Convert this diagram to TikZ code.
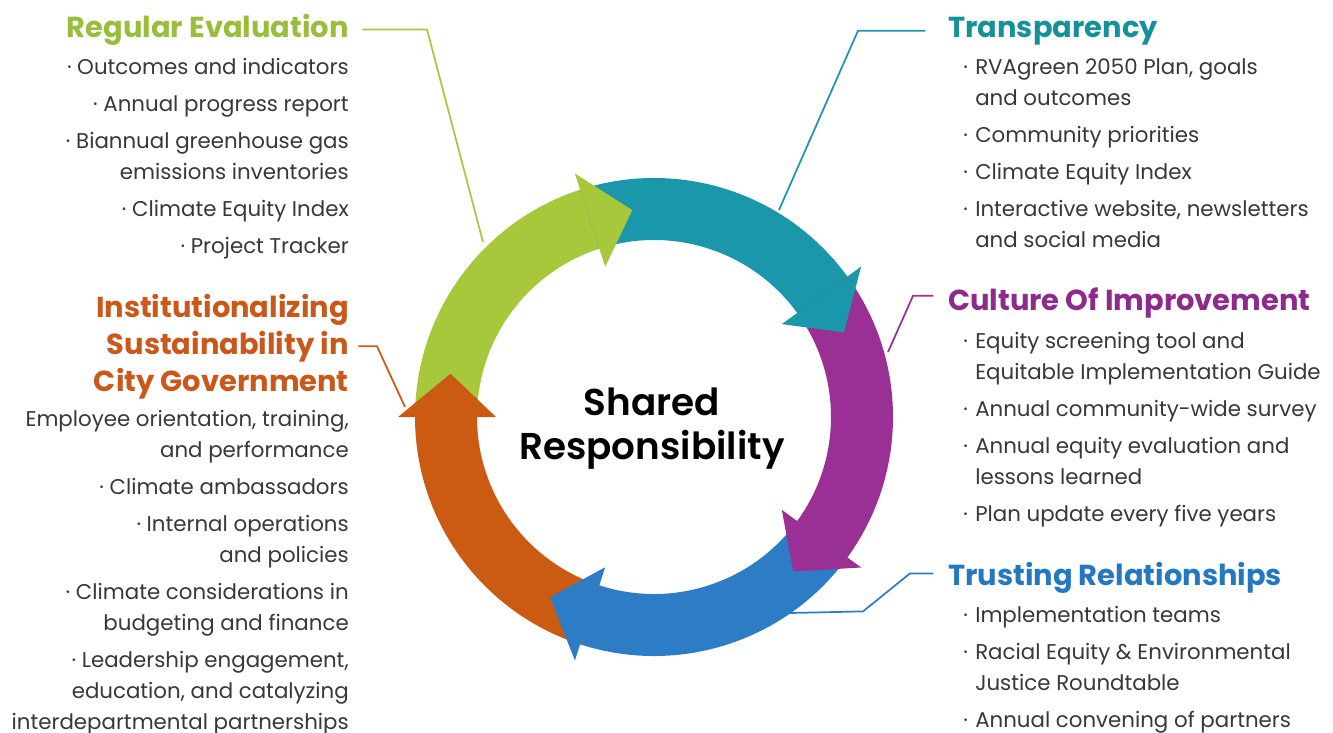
\documentclass[tikz,border=0pt]{standalone}
\usepackage{fontspec}
\setmainfont{Poppins}
\newfontfamily\semifont{Poppins SemiBold}
\usetikzlibrary{positioning}

\definecolor{evalgreen}{HTML}{A6C83A}
\definecolor{evaltext}{HTML}{98BE3C}
\definecolor{transteal}{HTML}{1B97AC}
\definecolor{transtext}{HTML}{16919A}
\definecolor{culturepurple}{HTML}{9A2F95}
\definecolor{culturetext}{HTML}{8E2A8B}
\definecolor{trustblue}{HTML}{2D7DC6}
\definecolor{trusttext}{HTML}{2478C2}
\definecolor{instorange}{HTML}{CB5A12}
\definecolor{insttext}{HTML}{C9581A}
\definecolor{bodygray}{HTML}{383838}

\newcommand{\bulletR}{\makebox[9pt][l]{·}}
\newcommand{\indentR}{\hspace*{9pt}}

\begin{document}
\begin{tikzpicture}[x=0.75pt,y=-0.75pt,
  head/.style={inner sep=0pt, font=\fontsize{21.7}{27.75}\selectfont\bfseries},
  items/.style={inner sep=0pt, text=bodygray, font=\fontsize{16}{23.25}\selectfont},
  lead/.style={line width=1.3pt}]
  \path[use as bounding box, fill=white] (0,0) rectangle (1333,732);

  % Left column headings and lists (base = last line)
  \node (evalhd) [head, text=evaltext, anchor=base east] at (349,37) {Regular Evaluation};
  \node (evallist) [items, align=right, anchor=base east] at (349,253) {%
    · Outcomes and indicators\\[4.5pt]
    · Annual progress report\\[4.5pt]
    · Biannual greenhouse gas\\
    emissions inventories\\[4.5pt]
    · Climate Equity Index\\[4.5pt]
    · Project Tracker};
  \node (insthd) [head, text=insttext, align=right, anchor=base east] at (349,391) {%
    Institutionalizing\\Sustainability in\\City Government};
  \node (instlist) [items, align=right, anchor=base east] at (349,729) {%
    Employee orientation, training,\\
    and performance\\[4.5pt]
    · Climate ambassadors\\[4.5pt]
    · Internal operations\\
    and policies\\[4.5pt]
    · Climate considerations in\\
    budgeting and finance\\[4.5pt]
    · Leadership engagement,\\
    education, and catalyzing\\
    interdepartmental partnerships};

  % Right column headings and lists
  \node (transhd) [head, text=transtext, anchor=base west] at (948,37) {Transparency};
  \node (translist) [items, align=left, anchor=base west] at (963,247) {%
    \bulletR RVAgreen 2050 Plan, goals\\
    \indentR and outcomes\\[4.5pt]
    \bulletR Community priorities\\[4.5pt]
    \bulletR Climate Equity Index\\[4.5pt]
    \bulletR Interactive website, newsletters\\
    \indentR and social media};
  \node (culturehd) [head, text=culturetext, anchor=base west] at (948,310) {Culture Of Improvement};
  \node (culturelist) [items, align=left, anchor=base west] at (963,521) {%
    \bulletR Equity screening tool and\\
    \indentR Equitable Implementation Guide\\[4.5pt]
    \bulletR Annual community-wide survey\\[4.5pt]
    \bulletR Annual equity evaluation and\\
    \indentR lessons learned\\[4.5pt]
    \bulletR Plan update every five years};
  \node (trusthd) [head, text=trusttext, anchor=base west] at (948,585) {Trusting Relationships};
  \node (trustlist) [items, align=left, anchor=base west] at (963,727) {%
    \bulletR Implementation teams\\[4.5pt]
    \bulletR Racial Equity \& Environmental\\
    \indentR Justice Roundtable\\[4.5pt]
    \bulletR Annual convening of partners};

  % Leader lines into the ring
  \coordinate (evalend) at (483,242);
  \coordinate (transend) at (779,210);
  \coordinate (cultureend) at (888,352);
  \coordinate (trustend) at (790,613);
  \coordinate (instend) at (405,407);
  \draw[lead, evalgreen, shorten <=10pt] (evalhd.east) -- ++(78,0) -- (evalend);
  \draw[lead, transteal, shorten <=17pt] (transhd.west) -- ++(-90,0) -- (transend);
  \draw[lead, culturepurple, shorten <=11pt] ([yshift=5pt]culturehd.west) -- ++(-35,0) -- (cultureend);
  \draw[lead, trustblue, shorten <=11pt] ([yshift=3pt]trusthd.west) -- ++(-38,0) -- ++(-47,38) -- (trustend);
  \draw[lead, instorange, shorten <=7pt] (insthd.east) -- ++(28,0) -- (instend);

  % Ring of arrows
  \begin{scope}[shift={(654,417)}, y=0.75pt]
    \foreach \col/\s/\b [evaluate=\b as \e using \b-2] in
      {evalgreen/180/108, transteal/108/36, culturepurple/36/-36, trustblue/-36/-108, instorange/-108/-180}
      \fill[\col] (\s:239) arc[start angle=\s, end angle=\e, radius=239]
        -- (\e:177) arc[start angle=\e, end angle=\s, radius=177] -- cycle;
    \foreach \col/\b in
      {evalgreen/108, transteal/36, culturepurple/-36, trustblue/-108, instorange/-180}
      \fill[\col] (\b:256) -- ({\b-12}:208) -- (\b:158) -- cycle;
  \end{scope}

  \node (shared) [align=center, inner sep=0pt, font=\semifont\fontsize{28}{33}\selectfont] at (652,429) {Shared\\Responsibility};
\end{tikzpicture}
\end{document}
